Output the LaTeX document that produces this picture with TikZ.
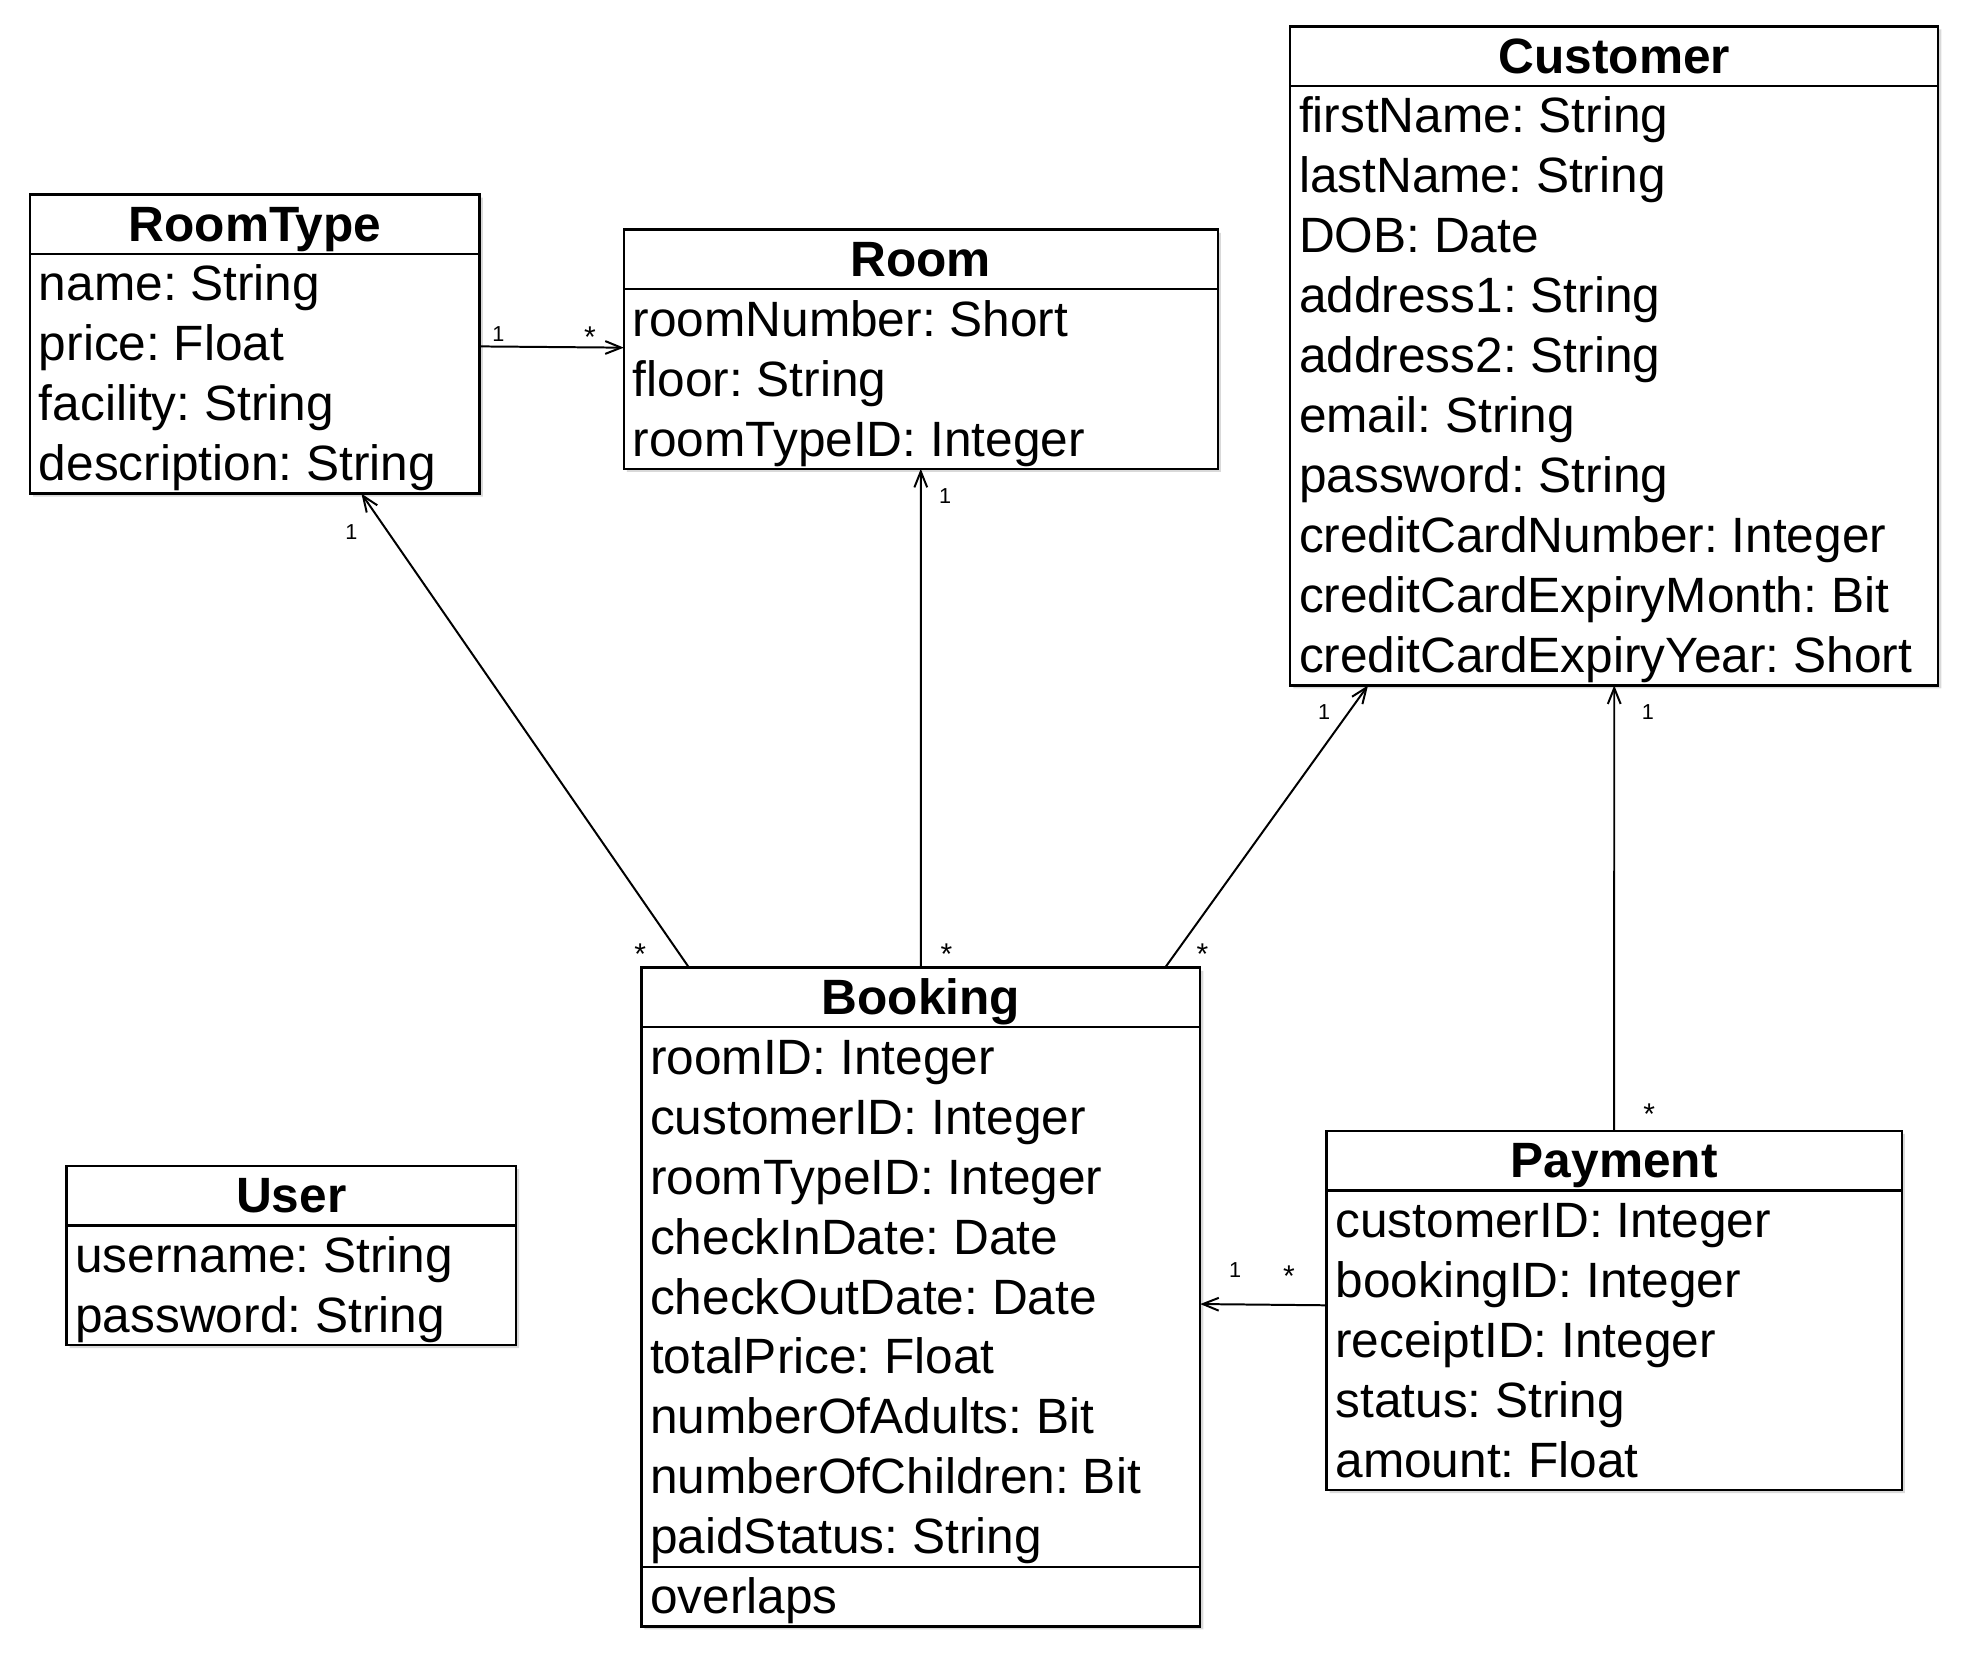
\documentclass[tikz,border=0pt]{standalone}
\usepackage{fontspec}
\setmainfont{Liberation Sans}
\usepackage{array}
\usetikzlibrary{positioning, calc, arrows.meta, shapes.multipart, shadows}

\frenchspacing
\renewcommand{\arraystretch}{0.7}
\newcommand{\umlrows}[1]{\begin{tabular}{@{}>{\rule[-2.94pt]{0pt}{13.59pt}}l@{}}#1\end{tabular}}

\begin{document}
\begin{tikzpicture}[
  x=0.01cm, y=-0.01cm,
  every node/.style={font=\fontsize{11.24}{13.59}\selectfont},
  umlclass/.style={draw, fill=white, line width=0.55pt, anchor=north west,
    rectangle split, rectangle split parts=2,
    rectangle split part align={center,left,left},
    inner xsep=2pt, inner ysep=-0.32pt, outer sep=0pt,
    drop shadow={shadow xshift=0.7pt, shadow yshift=-0.7pt, opacity=0.3}},
  mult/.style={font=\fontsize{4.9}{6}\selectfont, inner sep=0pt},
  multmany/.style={font=\fontsize{6.8}{7}\selectfont, inner sep=0pt},
  assoc/.style={line width=0.45pt, -{Straight Barb[length=3.6pt, width=2.9pt]}}
  ]
\useasboundingbox (0,0) rectangle (1568,1324);

\node[umlclass, minimum width=3.58cm] (roomtype) at (24,155)
  {\umlrows{\textbf{RoomType}}
   \nodepart{two}\umlrows{name: String\\price: Float\\facility: String\\description: String}};
\node[umlclass, minimum width=4.73cm] (room) at (497,183)
  {\umlrows{\textbf{Room}}
   \nodepart{two}\umlrows{roomNumber: Short\\floor: String\\roomTypeID: Integer}};
\node[umlclass, minimum width=5.16cm] (customer) at (1028,21)
  {\umlrows{\textbf{Customer}}
   \nodepart{two}\umlrows{firstName: String\\lastName: String\\DOB: Date\\address1: String\\address2: String\\email: String\\password: String\\creditCardNumber: Integer\\creditCardExpiryMonth: Bit\\creditCardExpiryYear: Short}};
\node[umlclass, rectangle split parts=3, minimum width=4.45cm] (booking) at (511,771)
  {\umlrows{\textbf{Booking}}
   \nodepart{two}\umlrows{roomID: Integer\\customerID: Integer\\roomTypeID: Integer\\checkInDate: Date\\checkOutDate: Date\\totalPrice: Float\\numberOfAdults: Bit\\numberOfChildren: Bit\\paidStatus: String}
   \nodepart{three}\umlrows{overlaps}};
\node[umlclass, minimum width=3.58cm] (user) at (53,929)
  {\umlrows{\textbf{User}}
   \nodepart{two}\umlrows{username: String\\password: String}};
\node[umlclass, minimum width=4.58cm] (payment) at (1057,901)
  {\umlrows{\textbf{Payment}}
   \nodepart{two}\umlrows{customerID: Integer\\bookingID: Integer\\receiptID: Integer\\status: String\\amount: Float}};

% associations
\draw[assoc] ($(roomtype.north east)+(0,121)$) -- ($(room.north west)+(0,94)$);
\draw[assoc] ($(booking.north west)+(38,0)$) -- ($(roomtype.south west)+(264,0)$);
\draw[assoc] (booking.north) -- (room.south);
\draw[assoc] ($(booking.north east)+(-28,0)$) -- ($(customer.south west)+(62,0)$);
\draw[assoc] (payment.north) -- (customer.south);
\draw[assoc] ($(payment.north west)+(0,139)$) -- ($(booking.north east)+(0,268)$);

% multiplicities
\node[mult] (rtroom1) at (397,266) {1};
\node[multmany] (rtroomn) at (470,269) {*};
\node[mult] (bkrt1) at (280,424) {1};
\node[multmany] (bkrtn) at (510,760) {*};
\node[mult] (bkroom1) at (753,395) {1};
\node[multmany] (bkroomn) at (754,760) {*};
\node[mult] (bkcust1) at (1055,567) {1};
\node[multmany] (bkcustn) at (958,760) {*};
\node[mult] (paycust1) at (1313,567) {1};
\node[multmany] (paycustn) at (1314,888) {*};
\node[mult] (paybk1) at (984,1012) {1};
\node[multmany] (paybkn) at (1027,1017) {*};
\end{tikzpicture}
\end{document}
